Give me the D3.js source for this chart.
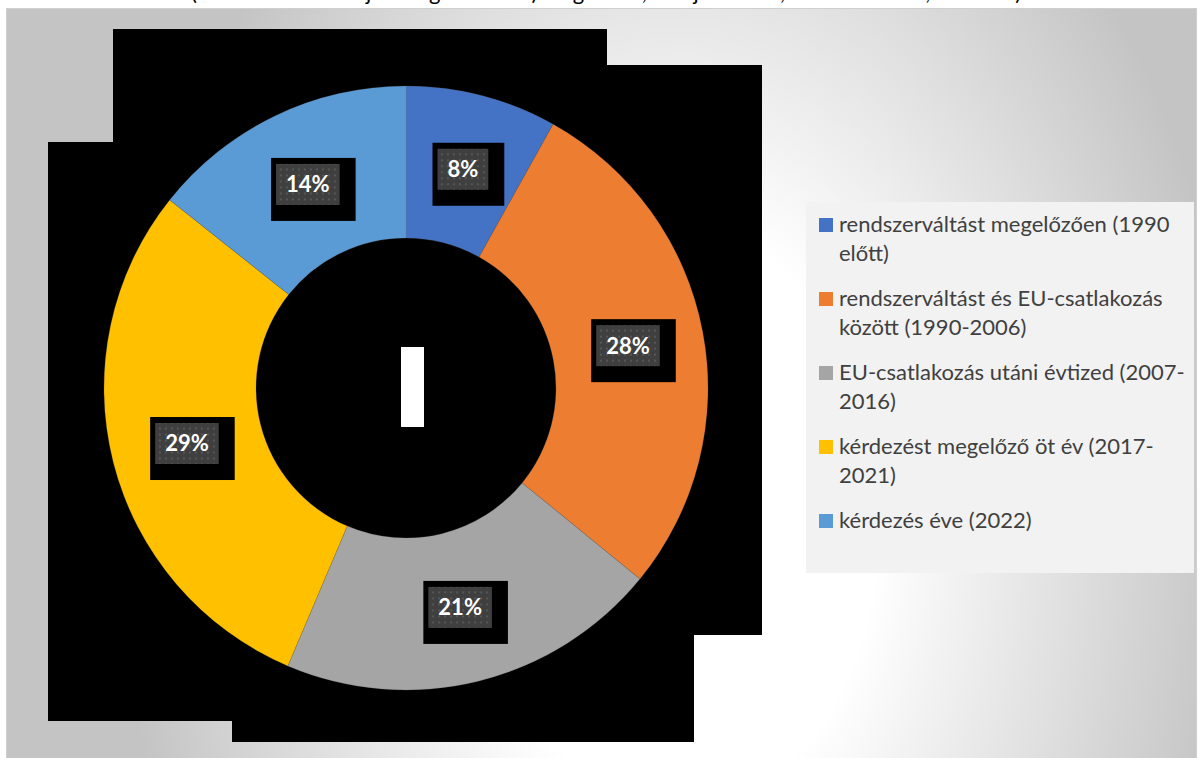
<!DOCTYPE html>
<html>
<head>
<meta charset="utf-8">
<script src="https://cdn.jsdelivr.net/npm/d3@7"></script>
<style>
  body { margin: 0; background: #fff; overflow: hidden; }
  svg { display: block; }
</style>
</head>
<body>
<div id="chart"></div>
<script>
// data
const categories = [
    "rendszerváltást megelőzően (1990 előtt)",
    "rendszerváltást és EU-csatlakozás között (1990-2006)",
    "EU-csatlakozás utáni évtized (2007-2016)",
    "kérdezést megelőző öt év (2017-2021)",
    "kérdezés éve (2022)"
];
const legendLines = [
    ["rendszerváltást megelőzően (1990", "előtt)"],
    ["rendszerváltást és EU-csatlakozás", "között (1990-2006)"],
    ["EU-csatlakozás utáni évtized (2007-", "2016)"],
    ["kérdezést megelőző öt év (2017-", "2021)"],
    ["kérdezés éve (2022)"]
];
// shares, labels show them rounded
const shares = [8.1, 27.8, 20.5, 29.3, 14.3];
const colors = ["#4472C4", "#ED7D31", "#A5A5A5", "#FFC000", "#5B9BD5"];
const titleText = "(Mikor költözött a jelenlegi lakásba?) megoszlás, a teljes minta, lakásmobilitás, százalék)";

const W = 1203, H = 758;
const cx = 406, cy = 388;
const rOuter = 302, rInner = 150;

const svg = d3.select("#chart").append("svg")
    .attr("width", W)
    .attr("height", H);

const defs = svg.append("defs");
const grad = defs.append("radialGradient")
    .attr("id", "bg")
    .attr("gradientUnits", "userSpaceOnUse")
    .attr("cx", 0).attr("cy", 0).attr("r", 1)
    .attr("gradientTransform", "translate(680,520) scale(560,820)");
grad.append("stop").attr("offset", "0").attr("stop-color", "#ffffff");
grad.append("stop").attr("offset", "0.35").attr("stop-color", "#ffffff");
grad.append("stop").attr("offset", "1").attr("stop-color", "#c4c4c4");

const pat = defs.append("pattern")
    .attr("id", "dots")
    .attr("patternUnits", "userSpaceOnUse")
    .attr("width", 6).attr("height", 6);
pat.append("rect").attr("width", 6).attr("height", 6).attr("fill", "#3f3f3f");
pat.append("rect").attr("x", 2).attr("y", 2).attr("width", 2).attr("height", 2).attr("fill", "#565656");

// title, cut at the top edge like the source
svg.append("text")
    .attr("x", 606)
    .attr("y", 0)
    .attr("text-anchor", "middle")
    .style("font-family", "Lato, 'Open Sans', sans-serif")
    .style("font-size", "22px")
    .attr("fill", "#000")
    .text(titleText);

// chart area
svg.append("rect")
    .attr("x", 6.5).attr("y", 8.5)
    .attr("width", 1190).attr("height", 752)
    .attr("fill", "url(#bg)")
    .attr("stroke", "#cfcfcf");

// black blocks behind the plot
const blocks = [
    [113, 29, 607, 400],
    [480, 65, 762, 635],
    [48, 142, 480, 721],
    [232, 450, 694, 742]
];
svg.selectAll(".block")
    .data(blocks)
    .enter()
    .append("rect")
    .attr("class", "block")
    .attr("x", d => d[0])
    .attr("y", d => d[1])
    .attr("width", d => d[2] - d[0])
    .attr("height", d => d[3] - d[1])
    .attr("fill", "#000");

// donut
const pie = d3.pie().sort(null).value(d => d);
const arc = d3.arc().innerRadius(rInner).outerRadius(rOuter);
const arcs = pie(shares);

const g = svg.append("g").attr("transform", "translate(" + cx + "," + cy + ")");

g.selectAll(".slice")
    .data(arcs)
    .enter()
    .append("path")
    .attr("class", "slice")
    .attr("d", arc)
    .attr("fill", (d, i) => colors[i])
    .attr("stroke", "#6b6b6b")
    .attr("stroke-opacity", 0.35)
    .attr("stroke-width", 0.6);

// white bar in the hole
svg.append("rect")
    .attr("x", 401).attr("y", 347)
    .attr("width", 23).attr("height", 80)
    .attr("fill", "#fff");

// data labels
const labels = g.selectAll(".lbl")
    .data(arcs)
    .enter()
    .append("g")
    .attr("class", "lbl")
    .attr("transform", d => "translate(" + arc.centroid(d) + ")");

labels.each(function(d) {
    const lg = d3.select(this);
    const outer = lg.append("rect").attr("fill", "#000");
    const inner = lg.append("rect").attr("fill", "url(#dots)");
    const t = lg.append("text")
        .attr("text-anchor", "middle")
        .attr("dy", "0.36em")
        .style("font-family", "Lato, 'Open Sans', sans-serif")
        .style("font-weight", "bold")
        .style("font-size", "22px")
        .attr("fill", "#fff")
        .text(Math.round(d.data) + "%");
    const w = t.node().getComputedTextLength() + 20;
    const h = 41;
    inner.attr("x", -w / 2).attr("y", -h / 2).attr("width", w).attr("height", h);
    outer.attr("x", -w / 2 - 5).attr("y", -h / 2 - 6).attr("width", w + 21).attr("height", h + 22);
});

// legend
svg.append("rect")
    .attr("x", 806).attr("y", 202)
    .attr("width", 388).attr("height", 371)
    .attr("fill", "#f2f2f2");

const leg = svg.selectAll(".leg")
    .data(categories)
    .enter()
    .append("g")
    .attr("class", "leg")
    .attr("transform", (d, i) => "translate(819," + (232 + i * 74) + ")");

leg.append("rect")
    .attr("x", 0).attr("y", -14)
    .attr("width", 14).attr("height", 14)
    .attr("fill", (d, i) => colors[i]);

leg.append("text")
    .attr("x", 20)
    .style("font-family", "Lato, 'Open Sans', sans-serif")
    .style("font-size", "22px")
    .attr("fill", "#404040")
    .each(function(d, i) {
        const t = d3.select(this);
        legendLines[i].forEach((line, k) => {
            t.append("tspan").attr("x", 20).attr("y", k * 29).text(line);
        });
    });
</script>
</body>
</html>
